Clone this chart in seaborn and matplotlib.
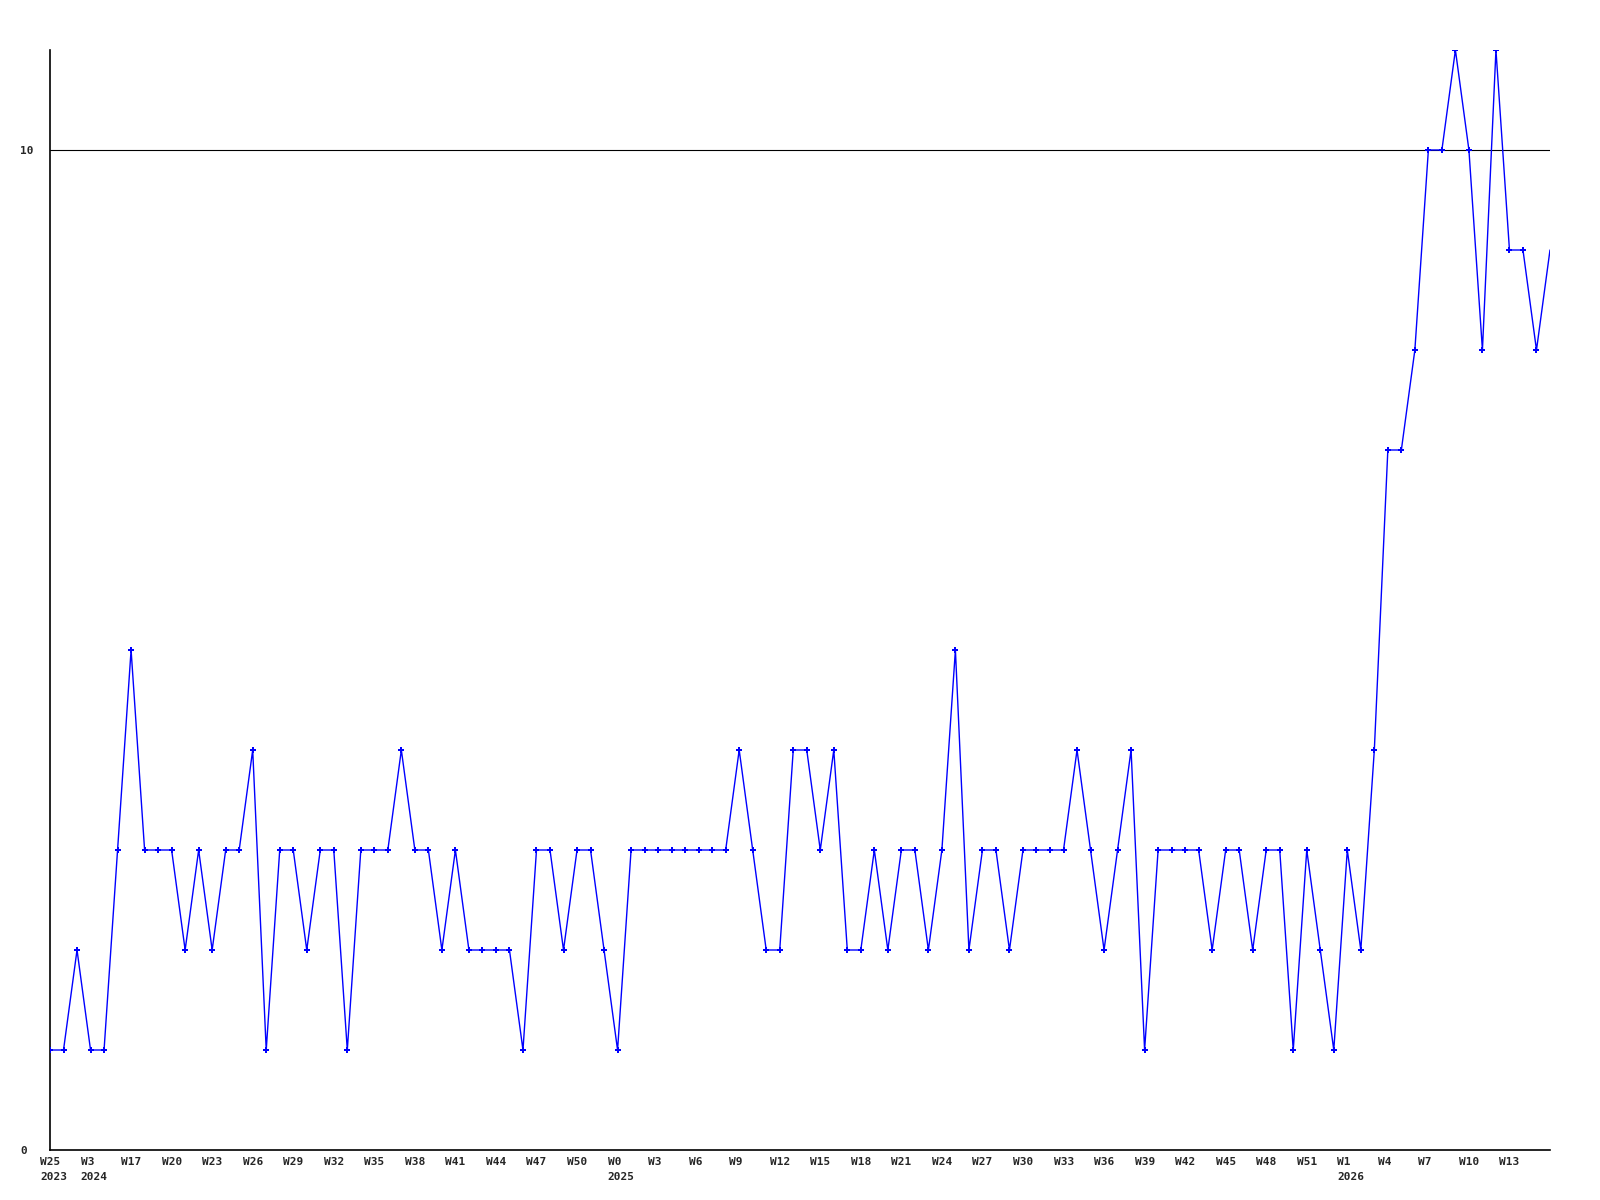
import matplotlib
matplotlib.use("Agg")
import matplotlib.pyplot as plt
import matplotlib.transforms as mtransforms
import seaborn as sns
import pandas as pd

# weekly values, one per point
values = [1, 1, 2, 1, 1, 3, 5, 3, 3, 3, 2, 3, 2, 3, 3, 4, 1, 3, 3, 2,
          3, 3, 1, 3, 3, 3, 4, 3, 3, 2, 3, 2, 2, 2, 2, 1, 3, 3, 2, 3,
          3, 2, 1, 3, 3, 3, 3, 3, 3, 3, 3, 4, 3, 2, 2, 4, 4, 3, 4, 2,
          2, 3, 2, 3, 3, 2, 3, 5, 2, 3, 3, 2, 3, 3, 3, 3, 4, 3, 2, 3,
          4, 1, 3, 3, 3, 3, 2, 3, 3, 2, 3, 3, 1, 3, 2, 1, 3, 2, 4, 7,
          7, 8, 10, 10, 11, 10, 8, 11, 9, 9, 8, 9]

# labels shown on every third point
week_labels = ["W25", "W3", "W17", "W20", "W23", "W26", "W29", "W32", "W35",
               "W38", "W41", "W44", "W47", "W50", "W0", "W3", "W6", "W9",
               "W12", "W15", "W18", "W21", "W24", "W27", "W30", "W33", "W36",
               "W39", "W42", "W45", "W48", "W51", "W1", "W4", "W7", "W10", "W13"]
year_labels = {0: "2023", 1: "2024", 14: "2025", 32: "2026"}

df = pd.DataFrame({"idx": range(len(values)), "value": values})

sns.set_style("white")
plt.rcParams["font.family"] = ["DejaVu Sans Mono", "DejaVu Sans"]

fig = plt.figure(figsize=(16, 12), dpi=100)
ax = fig.add_axes([50 / 1600, 50 / 1200, 1500 / 1600, 1100 / 1200])

ax.axhline(10, color="black", lw=0.8, zorder=1)
# last week is still running, no marker on it
sns.lineplot(data=df, x="idx", y="value", color="#0000ff", linewidth=1.0,
             marker="P", markersize=4, markeredgewidth=0,
             markevery=list(range(len(values) - 1)), ax=ax, zorder=3)

ax.set_xlim(0, len(values) - 1)
ax.set_ylim(0, 11)

tick_pos = list(range(0, len(values), 3))[:len(week_labels)]
labels = [f"{w}\n{year_labels[i]}" if i in year_labels else w
          for i, w in enumerate(week_labels)]
ax.set_xticks(tick_pos)
ax.set_xticklabels(labels, fontsize=8, fontweight="bold", ha="left",
                   linespacing=1.6)
ax.set_yticks([0, 10])
ax.set_yticklabels(["0", "10"], fontsize=8, fontweight="bold", ha="left")
ax.tick_params(axis="x", length=0, pad=5)
ax.tick_params(axis="y", length=0, pad=21.6)

shift = mtransforms.ScaledTranslation(-10 / 100, 0, fig.dpi_scale_trans)
for lab in ax.get_xticklabels():
    lab.set_transform(lab.get_transform() + shift)

ax.set_xlabel("")
ax.set_ylabel("")
for side in ["top", "right"]:
    ax.spines[side].set_visible(False)
for side in ["left", "bottom"]:
    ax.spines[side].set_color("black")
    ax.spines[side].set_linewidth(1.2)

fig.savefig("out.png", dpi=100)
